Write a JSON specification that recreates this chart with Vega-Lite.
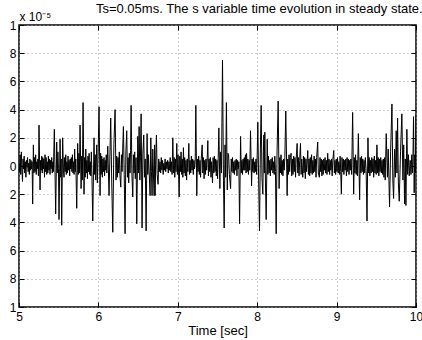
{
"$schema":"https://vega.github.io/schema/vega-lite/v6.json",
"width":397,"height":282,
"autosize":{"type":"none"},
"padding":{"left":19,"top":25,"right":6,"bottom":33},
"background":"white",
"title":{"text":"Ts=0.05ms. The s variable time evolution in steady state.","anchor":"end","font":"Liberation Sans","fontSize":13,"fontWeight":"normal","color":"black","offset":-6},
"config":{"view":{"stroke":"black","strokeWidth":1.5},
"axis":{"labelFont":"Liberation Sans","labelFontSize":12,"labelColor":"black","titleFont":"Liberation Sans","titleFontSize":13,"titleFontWeight":"normal","titleColor":"black","domain":false,"tickColor":"black","tickSize":-5,"grid":true,"gridColor":"#9a9a9a","gridDash":[1,3],"gridWidth":1}},
"data":{"values":[
{"t":5.000,"v":0.02},{"t":5.008,"v":-0.04},{"t":5.015,"v":0.08},{"t":5.022,"v":-0.06},{"t":5.030,"v":0.10},{"t":5.037,"v":-0.03},{"t":5.044,"v":-0.11},{"t":5.051,"v":0.05},{"t":5.058,"v":-0.02},{"t":5.065,"v":0.07},{"t":5.072,"v":-0.05},{"t":5.080,"v":0.03},{"t":5.087,"v":-0.08},{"t":5.094,"v":0.04},{"t":5.101,"v":-0.01},{"t":5.108,"v":0.06},{"t":5.115,"v":-0.04},{"t":5.122,"v":0.02},{"t":5.130,"v":-0.06},{"t":5.137,"v":0.05},{"t":5.144,"v":-0.03},{"t":5.151,"v":0.04},{"t":5.158,"v":-0.02},{"t":5.165,"v":0.03},
{"t":5.172,"v":-0.27},{"t":5.181,"v":0.15},{"t":5.188,"v":-0.05},{"t":5.195,"v":0.06},{"t":5.203,"v":-0.04},{"t":5.210,"v":0.08},{"t":5.217,"v":-0.06},{"t":5.224,"v":0.03},{"t":5.231,"v":-0.02},{"t":5.238,"v":0.05},{"t":5.245,"v":-0.07},{"t":5.252,"v":0.29},{"t":5.265,"v":-0.17},{"t":5.272,"v":0.04},{"t":5.279,"v":-0.03},{"t":5.286,"v":0.07},{"t":5.293,"v":-0.05},{"t":5.300,"v":0.06},{"t":5.307,"v":-0.02},{"t":5.314,"v":0.05},{"t":5.321,"v":-0.08},{"t":5.328,"v":0.08},{"t":5.335,"v":-0.04},{"t":5.342,"v":0.06},{"t":5.349,"v":-0.06},{"t":5.356,"v":0.03},{"t":5.363,"v":-0.05},{"t":5.370,"v":0.07},{"t":5.377,"v":-0.03},{"t":5.384,"v":0.05},{"t":5.391,"v":-0.06},{"t":5.398,"v":0.04},{"t":5.405,"v":-0.02},{"t":5.412,"v":0.06},{"t":5.419,"v":-0.05},{"t":5.426,"v":0.03},{"t":5.433,"v":-0.04},
{"t":5.445,"v":0.26},{"t":5.462,"v":-0.34},{"t":5.475,"v":0.17},{"t":5.482,"v":-0.05},{"t":5.490,"v":0.10},{"t":5.497,"v":-0.02},{"t":5.504,"v":-0.38},{"t":5.517,"v":0.19},{"t":5.525,"v":-0.08},{"t":5.531,"v":0.05},{"t":5.538,"v":-0.42},{"t":5.550,"v":0.20},{"t":5.560,"v":-0.03},{"t":5.567,"v":-0.08},{"t":5.575,"v":0.06},{"t":5.582,"v":-0.04},{"t":5.589,"v":0.08},{"t":5.596,"v":-0.06},{"t":5.603,"v":0.03},{"t":5.610,"v":-0.05},{"t":5.617,"v":0.07},{"t":5.624,"v":-0.03},{"t":5.631,"v":0.04},{"t":5.638,"v":-0.07},{"t":5.645,"v":0.05},{"t":5.652,"v":-0.02},{"t":5.659,"v":0.06},{"t":5.666,"v":-0.04},{"t":5.673,"v":0.08},{"t":5.680,"v":-0.05},{"t":5.687,"v":0.03},{"t":5.694,"v":-0.06},{"t":5.701,"v":0.12},{"t":5.708,"v":-0.04},{"t":5.715,"v":0.05},{"t":5.727,"v":-0.30},{"t":5.739,"v":0.16},{"t":5.747,"v":-0.06},{"t":5.755,"v":0.09},{"t":5.762,"v":-0.05},{"t":5.769,"v":0.29},{"t":5.782,"v":-0.16},{"t":5.790,"v":0.07},{"t":5.798,"v":-0.10},{"t":5.807,"v":0.45},{"t":5.819,"v":-0.20},{"t":5.827,"v":0.06},{"t":5.834,"v":-0.08},{"t":5.841,"v":0.12},{"t":5.848,"v":-0.05},{"t":5.855,"v":0.04},{"t":5.862,"v":-0.09},{"t":5.869,"v":0.07},{"t":5.876,"v":-0.04},{"t":5.883,"v":0.09},{"t":5.890,"v":-0.06},{"t":5.897,"v":0.03},{"t":5.904,"v":-0.07},{"t":5.911,"v":0.10},{"t":5.918,"v":-0.05},
{"t":5.929,"v":-0.39},{"t":5.945,"v":0.20},{"t":5.952,"v":-0.06},{"t":5.960,"v":0.08},{"t":5.967,"v":-0.10},{"t":5.979,"v":0.15},{"t":5.987,"v":-0.12},{"t":5.995,"v":0.05},{"t":6.008,"v":0.42},{"t":6.021,"v":-0.21},{"t":6.028,"v":0.09},{"t":6.035,"v":-0.06},{"t":6.042,"v":0.07},{"t":6.050,"v":-0.08},{"t":6.057,"v":0.05},{"t":6.064,"v":-0.04},{"t":6.071,"v":0.06},{"t":6.078,"v":-0.07},{"t":6.085,"v":0.04},{"t":6.092,"v":-0.03},{"t":6.099,"v":0.08},{"t":6.106,"v":-0.05},{"t":6.118,"v":0.14},{"t":6.134,"v":-0.21},{"t":6.155,"v":0.34},{"t":6.168,"v":-0.12},{"t":6.181,"v":-0.47},{"t":6.195,"v":0.15},{"t":6.210,"v":0.40},{"t":6.222,"v":-0.10},{"t":6.230,"v":0.07},{"t":6.239,"v":-0.08},{"t":6.247,"v":0.06},{"t":6.255,"v":-0.05},{"t":6.263,"v":0.10},{"t":6.272,"v":-0.07},{"t":6.282,"v":-0.15},{"t":6.290,"v":0.08},{"t":6.298,"v":-0.04},{"t":6.306,"v":0.12},{"t":6.315,"v":0.28},{"t":6.325,"v":-0.06},{"t":6.336,"v":-0.48},{"t":6.346,"v":0.10},{"t":6.357,"v":0.25},{"t":6.366,"v":-0.08},{"t":6.374,"v":0.06},{"t":6.382,"v":-0.12},{"t":6.390,"v":0.09},{"t":6.398,"v":-0.05},{"t":6.405,"v":0.11},{"t":6.412,"v":0.43},{"t":6.422,"v":-0.06},{"t":6.433,"v":-0.22},{"t":6.441,"v":0.08},{"t":6.449,"v":-0.05},{"t":6.457,"v":0.10},{"t":6.465,"v":-0.09},{"t":6.474,"v":0.06},{"t":6.483,"v":-0.41},{"t":6.496,"v":0.21},{"t":6.504,"v":-0.05},{"t":6.513,"v":0.28},{"t":6.522,"v":-0.10},{"t":6.530,"v":0.07},{"t":6.538,"v":0.37},{"t":6.550,"v":-0.44},{"t":6.560,"v":0.09},{"t":6.571,"v":0.22},{"t":6.580,"v":-0.08},{"t":6.590,"v":0.05},{"t":6.601,"v":-0.46},{"t":6.613,"v":0.23},{"t":6.622,"v":-0.06},{"t":6.630,"v":0.08},{"t":6.640,"v":-0.05},{"t":6.651,"v":-0.21},{"t":6.660,"v":0.20},{"t":6.668,"v":-0.04},{"t":6.676,"v":-0.21},{"t":6.685,"v":0.12},{"t":6.693,"v":-0.05},{"t":6.702,"v":-0.21},{"t":6.708,"v":0.15},{"t":6.714,"v":-0.21},{"t":6.722,"v":0.05},{"t":6.731,"v":0.22},{"t":6.740,"v":-0.06},{"t":6.752,"v":-0.13},{"t":6.760,"v":0.05},{"t":6.768,"v":-0.04},{"t":6.776,"v":0.03},{"t":6.784,"v":-0.05},{"t":6.792,"v":0.06},{"t":6.800,"v":-0.03},{"t":6.808,"v":0.04},{"t":6.816,"v":-0.06},{"t":6.824,"v":0.02},{"t":6.832,"v":-0.03},{"t":6.840,"v":0.05},{"t":6.848,"v":-0.04},{"t":6.856,"v":0.03},{"t":6.864,"v":-0.02},{"t":6.872,"v":0.04},{"t":6.880,"v":-0.05},{"t":6.888,"v":0.03},{"t":6.896,"v":-0.03},{"t":6.904,"v":0.06},{"t":6.912,"v":-0.04},{"t":6.920,"v":0.03},{"t":6.928,"v":-0.06},
{"t":6.937,"v":0.20},{"t":6.946,"v":-0.05},{"t":6.954,"v":0.06},{"t":6.962,"v":-0.08},{"t":6.970,"v":0.05},{"t":6.978,"v":-0.04},{"t":6.987,"v":0.16},{"t":6.995,"v":-0.06},{"t":7.003,"v":0.08},{"t":7.010,"v":-0.05},{"t":7.017,"v":-0.22},{"t":7.025,"v":0.07},{"t":7.033,"v":-0.04},{"t":7.041,"v":0.10},{"t":7.049,"v":-0.06},{"t":7.057,"v":0.05},{"t":7.064,"v":-0.08},{"t":7.071,"v":0.13},{"t":7.079,"v":-0.05},{"t":7.087,"v":0.06},{"t":7.095,"v":-0.07},{"t":7.103,"v":0.04},{"t":7.111,"v":-0.10},{"t":7.119,"v":0.05},{"t":7.127,"v":-0.04},{"t":7.139,"v":0.16},{"t":7.147,"v":-0.06},{"t":7.155,"v":0.04},{"t":7.163,"v":-0.05},{"t":7.171,"v":0.07},{"t":7.179,"v":-0.03},{"t":7.187,"v":0.05},{"t":7.195,"v":-0.06},{"t":7.203,"v":0.04},{"t":7.211,"v":-0.02},{"t":7.219,"v":0.03},{"t":7.227,"v":0.43},{"t":7.239,"v":-0.21},{"t":7.247,"v":0.05},{"t":7.255,"v":-0.04},{"t":7.263,"v":0.07},{"t":7.271,"v":-0.06},{"t":7.279,"v":0.04},{"t":7.287,"v":-0.08},{"t":7.295,"v":0.05},{"t":7.307,"v":0.15},{"t":7.315,"v":-0.05},{"t":7.323,"v":0.06},{"t":7.331,"v":-0.09},{"t":7.339,"v":0.04},{"t":7.347,"v":-0.06},{"t":7.355,"v":0.05},{"t":7.363,"v":-0.03},{"t":7.371,"v":0.06},{"t":7.378,"v":0.18},{"t":7.386,"v":-0.07},{"t":7.394,"v":0.05},{"t":7.402,"v":-0.04},{"t":7.410,"v":0.06},{"t":7.418,"v":-0.08},{"t":7.426,"v":0.03},{"t":7.437,"v":-0.12},{"t":7.445,"v":0.06},{"t":7.453,"v":-0.05},{"t":7.461,"v":0.07},{"t":7.469,"v":-0.04},{"t":7.477,"v":0.05},{"t":7.485,"v":-0.07},{"t":7.493,"v":0.04},{"t":7.501,"v":-0.09},{"t":7.509,"v":0.06},{"t":7.517,"v":0.27},{"t":7.530,"v":-0.16},{"t":7.538,"v":0.10},{"t":7.550,"v":-0.05},{"t":7.563,"v":0.75},{"t":7.575,"v":-0.10},{"t":7.584,"v":-0.44},{"t":7.595,"v":0.15},{"t":7.603,"v":-0.08},{"t":7.612,"v":0.45},{"t":7.623,"v":-0.17},{"t":7.632,"v":0.09},{"t":7.640,"v":0.08},{"t":7.650,"v":-0.06},{"t":7.665,"v":-0.16},{"t":7.673,"v":0.05},{"t":7.681,"v":-0.04},{"t":7.689,"v":0.06},{"t":7.697,"v":-0.05},{"t":7.705,"v":0.03},{"t":7.713,"v":-0.06},{"t":7.721,"v":0.04},{"t":7.729,"v":-0.03},{"t":7.737,"v":0.05},{"t":7.745,"v":-0.07},{"t":7.753,"v":0.04},{"t":7.761,"v":-0.02},{"t":7.769,"v":0.03},{"t":7.778,"v":-0.41},{"t":7.791,"v":0.21},{"t":7.799,"v":-0.05},{"t":7.807,"v":0.04},{"t":7.815,"v":-0.06},{"t":7.823,"v":0.05},{"t":7.831,"v":-0.03},{"t":7.838,"v":0.06},{"t":7.845,"v":-0.03},{"t":7.852,"v":0.08},{"t":7.860,"v":-0.05},{"t":7.866,"v":0.09},{"t":7.874,"v":-0.04},{"t":7.882,"v":0.05},{"t":7.890,"v":-0.06},{"t":7.898,"v":0.04},{"t":7.906,"v":-0.03},{"t":7.916,"v":0.25},{"t":7.929,"v":-0.14},{"t":7.937,"v":0.05},{"t":7.945,"v":-0.04},{"t":7.953,"v":0.06},{"t":7.961,"v":-0.05},{"t":7.969,"v":0.03},{"t":7.977,"v":-0.04},{"t":7.985,"v":0.05},{"t":7.993,"v":-0.06},{"t":8.000,"v":0.08},{"t":8.008,"v":0.31},{"t":8.018,"v":-0.10},{"t":8.029,"v":-0.46},{"t":8.040,"v":0.12},{"t":8.050,"v":0.43},{"t":8.060,"v":-0.08},{"t":8.071,"v":-0.20},{"t":8.078,"v":0.10},{"t":8.084,"v":0.22},{"t":8.090,"v":-0.05},{"t":8.096,"v":0.24},{"t":8.104,"v":-0.12},{"t":8.113,"v":-0.38},{"t":8.126,"v":0.19},{"t":8.134,"v":-0.06},{"t":8.142,"v":0.07},{"t":8.150,"v":-0.05},{"t":8.158,"v":0.04},{"t":8.166,"v":-0.07},{"t":8.174,"v":0.05},{"t":8.182,"v":-0.03},{"t":8.190,"v":0.06},{"t":8.198,"v":-0.05},{"t":8.206,"v":0.03},{"t":8.214,"v":-0.06},{"t":8.222,"v":0.07},{"t":8.230,"v":-0.04},{"t":8.239,"v":-0.48},{"t":8.250,"v":0.10},{"t":8.264,"v":0.46},{"t":8.276,"v":-0.16},{"t":8.284,"v":0.06},{"t":8.292,"v":-0.05},{"t":8.300,"v":0.08},{"t":8.308,"v":-0.06},{"t":8.316,"v":0.04},{"t":8.324,"v":-0.07},{"t":8.332,"v":0.05},{"t":8.340,"v":-0.03},{"t":8.348,"v":0.06},{"t":8.360,"v":0.39},{"t":8.377,"v":-0.21},{"t":8.385,"v":0.05},{"t":8.393,"v":-0.06},{"t":8.401,"v":0.08},{"t":8.409,"v":-0.04},{"t":8.417,"v":0.06},{"t":8.427,"v":0.09},{"t":8.435,"v":-0.07},{"t":8.443,"v":0.05},{"t":8.451,"v":-0.06},{"t":8.459,"v":0.07},{"t":8.467,"v":-0.04},{"t":8.475,"v":0.06},{"t":8.483,"v":-0.08},{"t":8.491,"v":0.05},{"t":8.503,"v":0.16},{"t":8.511,"v":-0.05},{"t":8.519,"v":0.06},{"t":8.527,"v":-0.07},{"t":8.535,"v":0.04},{"t":8.545,"v":0.16},{"t":8.553,"v":-0.06},{"t":8.561,"v":0.05},{"t":8.574,"v":-0.08},{"t":8.582,"v":0.07},{"t":8.590,"v":-0.05},{"t":8.598,"v":0.06},{"t":8.606,"v":-0.09},{"t":8.614,"v":0.05},{"t":8.622,"v":-0.04},{"t":8.637,"v":0.11},{"t":8.645,"v":-0.06},{"t":8.653,"v":0.05},{"t":8.661,"v":-0.07},{"t":8.669,"v":0.06},{"t":8.677,"v":-0.05},{"t":8.685,"v":0.08},{"t":8.693,"v":-0.06},{"t":8.701,"v":0.04},{"t":8.709,"v":-0.05},{"t":8.717,"v":0.07},{"t":8.725,"v":-0.04},{"t":8.733,"v":0.05},{"t":8.741,"v":-0.08},{"t":8.749,"v":0.06},{"t":8.762,"v":0.17},{"t":8.770,"v":-0.05},{"t":8.783,"v":-0.08},{"t":8.791,"v":0.06},{"t":8.799,"v":-0.04},{"t":8.807,"v":0.05},{"t":8.815,"v":-0.07},{"t":8.823,"v":0.04},{"t":8.831,"v":-0.06},{"t":8.839,"v":0.05},{"t":8.847,"v":-0.03},{"t":8.855,"v":0.06},{"t":8.863,"v":-0.05},{"t":8.871,"v":0.04},{"t":8.879,"v":-0.06},{"t":8.888,"v":0.09},{"t":8.896,"v":-0.04},{"t":8.904,"v":0.05},{"t":8.912,"v":-0.06},{"t":8.920,"v":0.04},{"t":8.928,"v":-0.03},{"t":8.936,"v":0.05},{"t":8.944,"v":-0.07},{"t":8.952,"v":0.04},{"t":8.964,"v":0.11},{"t":8.972,"v":-0.05},{"t":8.980,"v":0.04},{"t":8.988,"v":-0.06},{"t":8.996,"v":0.05},{"t":9.004,"v":-0.04},{"t":9.012,"v":0.06},{"t":9.020,"v":-0.05},{"t":9.028,"v":0.03},{"t":9.036,"v":-0.06},{"t":9.044,"v":0.07},{"t":9.052,"v":-0.04},{"t":9.060,"v":-0.20},{"t":9.068,"v":0.06},{"t":9.076,"v":-0.04},{"t":9.084,"v":0.05},{"t":9.092,"v":-0.06},{"t":9.100,"v":0.04},{"t":9.108,"v":-0.03},{"t":9.116,"v":0.05},{"t":9.124,"v":-0.07},{"t":9.132,"v":0.06},{"t":9.140,"v":-0.04},{"t":9.148,"v":0.05},{"t":9.156,"v":-0.06},{"t":9.164,"v":0.04},{"t":9.172,"v":-0.03},{"t":9.180,"v":0.05},{"t":9.190,"v":-0.06},{"t":9.202,"v":0.38},{"t":9.215,"v":-0.20},{"t":9.223,"v":0.06},{"t":9.231,"v":-0.05},{"t":9.239,"v":0.08},{"t":9.247,"v":-0.06},{"t":9.255,"v":0.04},{"t":9.263,"v":-0.07},{"t":9.274,"v":0.23},{"t":9.290,"v":-0.24},{"t":9.298,"v":0.06},{"t":9.306,"v":-0.05},{"t":9.314,"v":0.07},{"t":9.322,"v":-0.04},{"t":9.330,"v":0.05},{"t":9.338,"v":-0.06},{"t":9.346,"v":0.04},{"t":9.354,"v":-0.05},{"t":9.362,"v":0.06},{"t":9.372,"v":-0.03},{"t":9.383,"v":-0.39},{"t":9.395,"v":0.20},{"t":9.403,"v":-0.05},{"t":9.411,"v":0.06},{"t":9.419,"v":-0.07},{"t":9.427,"v":0.04},{"t":9.435,"v":-0.05},{"t":9.443,"v":0.06},{"t":9.451,"v":-0.04},{"t":9.459,"v":0.05},{"t":9.467,"v":-0.08},{"t":9.475,"v":0.07},{"t":9.483,"v":-0.05},{"t":9.491,"v":0.04},{"t":9.499,"v":-0.06},{"t":9.508,"v":0.15},{"t":9.516,"v":-0.05},{"t":9.524,"v":0.06},{"t":9.532,"v":-0.07},{"t":9.540,"v":0.05},{"t":9.548,"v":-0.04},{"t":9.556,"v":0.06},{"t":9.564,"v":-0.05},{"t":9.572,"v":0.04},{"t":9.580,"v":-0.06},{"t":9.588,"v":0.05},{"t":9.596,"v":-0.08},{"t":9.604,"v":0.06},{"t":9.612,"v":-0.10},{"t":9.625,"v":0.23},{"t":9.640,"v":-0.08},{"t":9.650,"v":0.12},{"t":9.667,"v":-0.29},{"t":9.680,"v":0.10},{"t":9.697,"v":0.44},{"t":9.708,"v":-0.10},{"t":9.718,"v":-0.23},{"t":9.730,"v":0.12},{"t":9.740,"v":-0.08},{"t":9.751,"v":0.25},{"t":9.760,"v":-0.05},{"t":9.768,"v":0.34},{"t":9.778,"v":-0.12},{"t":9.789,"v":-0.25},{"t":9.805,"v":0.10},{"t":9.822,"v":0.37},{"t":9.835,"v":-0.10},{"t":9.845,"v":0.15},{"t":9.856,"v":-0.27},{"t":9.865,"v":0.05},{"t":9.873,"v":-0.28},{"t":9.885,"v":0.26},{"t":9.895,"v":-0.06},{"t":9.905,"v":0.08},{"t":9.915,"v":-0.07},{"t":9.927,"v":0.04},{"t":9.937,"v":-0.06},{"t":9.947,"v":0.08},{"t":9.955,"v":-0.05},{"t":9.962,"v":0.06},{"t":9.969,"v":0.35},{"t":9.977,"v":-0.19},{"t":9.985,"v":0.08},{"t":9.992,"v":-0.05},{"t":10.000,"v":0.36}
]},
"layer":[
{"mark":{"type":"line","color":"black","strokeWidth":1,"clip":true},
"encoding":{
"x":{"field":"t","type":"quantitative","scale":{"domain":[5,10],"nice":false,"zero":false},"axis":{"orient":"bottom","values":[5,6,7,8,9,10],"format":"d","title":"Time [sec]","titlePadding":2,"labelPadding":9,"labelFlush":false}},
"y":{"field":"v","type":"quantitative","scale":{"domain":[-1,1],"nice":false},"axis":{"orient":"left","values":[-1,-0.8,-0.6,-0.4,-0.2,0,0.2,0.4,0.6,0.8,1],"labelExpr":"abs(datum.value) > 0.99 ? '1' : format(abs(datum.value)*10, '.0f')","labelPadding":8,"labelFlush":false,"title":"x 10⁻⁵","titleAngle":0,"titleAlign":"left","titleBaseline":"alphabetic","titleX":0,"titleY":-5,"titleFontSize":12}}}},
{"mark":{"type":"line","opacity":0},
"encoding":{
"x":{"field":"t","type":"quantitative","scale":{"domain":[5,10],"nice":false,"zero":false},"axis":{"orient":"top","values":[5,6,7,8,9,10],"labels":false,"grid":false,"title":null}},
"y":{"field":"v","type":"quantitative","scale":{"domain":[-1,1],"nice":false},"axis":{"orient":"right","values":[-1,-0.8,-0.6,-0.4,-0.2,0,0.2,0.4,0.6,0.8,1],"labels":false,"grid":false,"title":null}}}}
],
"resolve":{"axis":{"x":"independent","y":"independent"}}
}
